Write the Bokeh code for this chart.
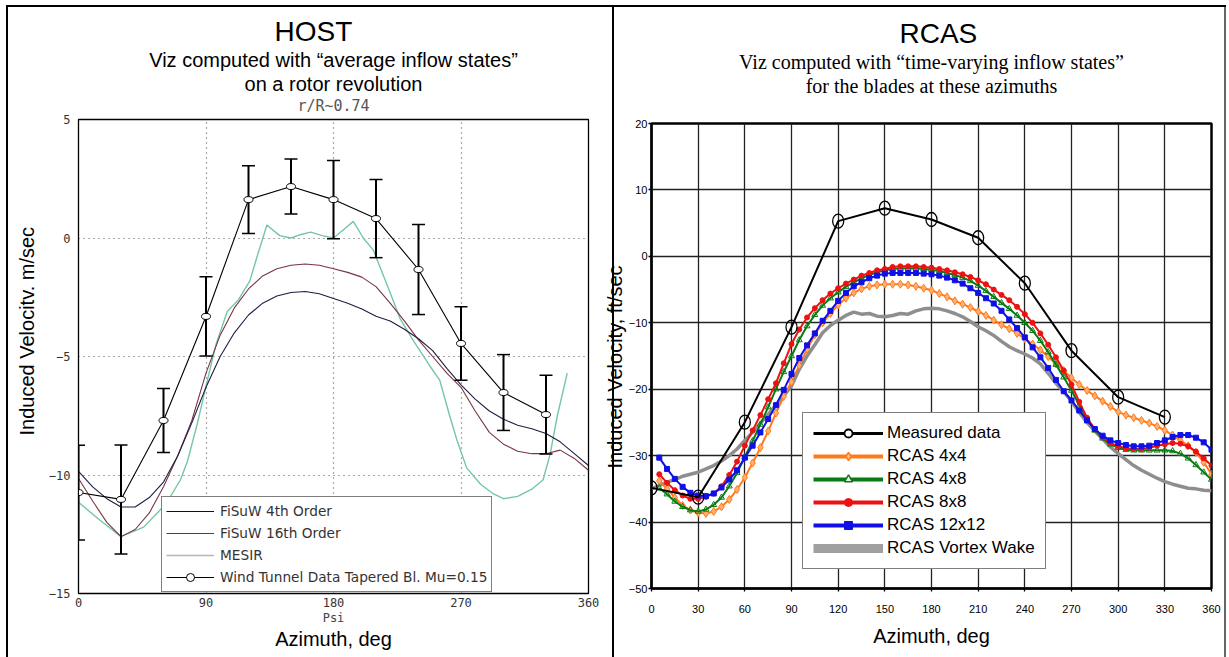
from bokeh.plotting import figure
from bokeh.layouts import row, column
from bokeh.models import Legend, LegendItem, FixedTicker, Range1d, Title
from bokeh.embed import file_html
from bokeh.resources import INLINE

# ---------------- HOST panel data (m/sec) ----------------
host_x_ticks = [0, 90, 180, 270, 360]
host_y_ticks = [-15, -10, -5, 0, 5]
host_x_grid = [90, 180, 270]
host_y_grid = [-10, -5, 0]

fisuw4_x = [0, 10, 20, 30, 40, 50, 60, 70, 80, 90, 100, 110, 120, 130, 140, 150, 160, 170, 180,
            190, 200, 210, 220, 230, 240, 250, 260, 270, 280, 290, 300, 310, 320, 330, 340, 350, 360]
fisuw4_y = [-9.85, -10.5, -11.0, -11.35, -11.35, -10.95, -10.3, -9.2, -7.8, -6.3, -5.0, -4.0, -3.25,
            -2.75, -2.45, -2.3, -2.26, -2.35, -2.55, -2.75, -3.0, -3.3, -3.5, -3.85, -4.25, -4.75, -5.5,
            -6.2, -6.8, -7.3, -7.65, -7.9, -8.05, -8.25, -8.6, -9.1, -9.6]

fisuw16_x = [0, 10, 20, 30, 40, 50, 60, 70, 80, 90, 100, 110, 120, 130, 140, 150, 160, 170, 180,
             190, 200, 210, 220, 230, 240, 250, 260, 270, 280, 290, 300, 310, 320, 330, 340, 350, 360]
fisuw16_y = [-10.15, -11.1, -12.0, -12.6, -12.3, -11.6, -10.5, -9.2, -7.7, -5.7, -4.1, -2.95, -2.15,
             -1.6, -1.3, -1.15, -1.1, -1.15, -1.3, -1.45, -1.65, -2.05, -2.75, -3.5, -4.3, -5.0, -5.7,
             -6.3, -7.3, -8.2, -8.7, -9.0, -9.1, -9.1, -8.95, -9.3, -9.8]

mesir_x = [0, 15, 30, 46, 62, 72, 77, 84, 91, 97, 105, 113, 121, 127, 133, 142, 150, 157, 164, 172,
           180, 187, 194, 201, 208, 218, 227, 236, 248, 255, 262, 267, 274, 284, 293, 300, 310, 320,
           328, 333, 338, 345]
mesir_y = [-11.15, -11.9, -12.6, -12.2, -11.2, -10.2, -9.4, -7.8, -6.0, -4.5, -3.1, -2.6, -1.8, -0.6,
           0.55, 0.1, 0.0, 0.15, 0.25, 0.1, 0.0, 0.35, 0.7, 0.0, -0.5, -2.0, -3.4, -4.3, -5.4, -6.0,
           -7.5, -8.5, -9.7, -10.4, -10.8, -11.0, -10.9, -10.6, -10.2, -9.1, -7.5, -5.7]

wt_x = [0, 30, 60, 90, 120, 150, 180, 210, 240, 270, 300, 330]
wt_y = [-10.74, -11.03, -7.7, -3.31, 1.62, 2.17, 1.62, 0.82, -1.33, -4.45, -6.52, -7.45]
wt_err = [2.0, 2.3, 1.35, 1.67, 1.43, 1.16, 1.65, 1.65, 1.9, 1.55, 1.6, 1.66]

host_labels = ["FiSuW 4th Order", "FiSuW 16th Order", "MESIR",
               "Wind Tunnel Data Tapered Bl. Mu=0.15"]

# ---------------- RCAS panel data (ft/sec) ----------------
rcas_x_ticks = [0, 30, 60, 90, 120, 150, 180, 210, 240, 270, 300, 330, 360]
rcas_y_ticks = [-50, -40, -30, -20, -10, 0, 10, 20]

meas_x = [0, 30, 60, 90, 120, 150, 180, 210, 240, 270, 300, 330]
meas_y = [-34.85, -36.25, -24.96, -10.66, 5.3, 7.25, 5.55, 2.8, -4.04, -14.2, -21.2, -24.2]

rcas_az = list(range(5, 361, 5))
rcas_4x4 = [-33.8, -35.0, -36.3, -37.5, -38.2, -38.6, -38.7, -38.4, -37.7, -36.6,
            -35.1, -33.3, -31.1, -28.8, -26.3, -23.6, -21.1, -18.9, -16.4, -14.0,
            -11.8, -10.0, -8.6, -7.3, -6.3, -5.5, -4.9, -4.5, -4.3, -4.2,
            -4.2, -4.2, -4.3, -4.5, -4.8, -5.1, -5.6, -6.1, -6.7, -7.2,
            -7.7, -8.3, -8.9, -9.6, -10.3, -10.9, -11.6, -12.4, -13.2, -14.1,
            -15.1, -16.2, -17.2, -18.3, -19.3, -20.2, -21.0, -21.8, -22.6, -23.4,
            -23.9, -24.3, -24.7, -25.1, -25.6, -26.2, -26.9, -27.7, -28.5, -29.5,
            -31.0, -32.8]
rcas_4x8 = [-34.9, -35.8, -36.9, -37.7, -38.2, -38.4, -38.1, -37.4, -36.3, -34.6,
            -32.6, -30.2, -27.8, -25.3, -22.7, -20.0, -17.4, -15.0, -12.6, -10.5,
            -8.8, -7.4, -6.3, -5.4, -4.6, -3.9, -3.3, -2.8, -2.4, -2.1,
            -1.9, -1.8, -1.8, -1.8, -1.9, -2.0, -2.2, -2.5, -2.8, -3.2,
            -3.7, -4.4, -5.2, -6.1, -7.0, -7.9, -8.9, -10.0, -11.2, -12.7,
            -14.4, -16.3, -18.2, -20.2, -22.4, -24.5, -26.2, -27.4, -28.3, -28.8,
            -29.1, -29.2, -29.2, -29.2, -29.2, -29.2, -29.3, -29.7, -30.4, -31.4,
            -32.5, -33.6]
rcas_8x8 = [-32.8, -34.1, -35.2, -36.0, -36.5, -36.5, -36.2, -35.7, -34.6, -32.9,
            -30.9, -28.5, -26.2, -23.9, -21.5, -19.1, -16.1, -13.2, -11.0, -9.2,
            -7.8, -6.6, -5.6, -4.8, -4.1, -3.5, -2.9, -2.5, -2.1, -1.9,
            -1.6, -1.5, -1.5, -1.5, -1.6, -1.7, -1.9, -2.1, -2.4, -2.7,
            -3.1, -3.6, -4.2, -5.0, -5.8, -6.6, -7.6, -8.7, -10.0, -11.6,
            -13.3, -15.2, -17.2, -19.3, -21.9, -24.3, -26.0, -27.2, -28.1, -28.6,
            -28.9, -29.0, -29.0, -28.8, -28.5, -28.3, -28.1, -28.2, -28.6, -29.4,
            -30.4, -31.5]
rcas_12x12 = [-30.3, -32.0, -33.5, -34.7, -35.6, -36.0, -36.1, -35.7, -34.8, -33.6,
              -32.2, -30.3, -28.5, -26.5, -24.5, -22.4, -20.1, -17.7, -15.3, -13.4,
              -11.6, -9.7, -8.2, -6.7, -5.5, -4.5, -3.9, -3.3, -2.9, -2.6,
              -2.5, -2.5, -2.5, -2.5, -2.6, -2.7, -2.9, -3.2, -3.6, -4.1,
              -4.8, -5.5, -6.3, -7.1, -8.2, -9.5, -10.8, -12.2, -13.7, -15.2,
              -16.8, -18.6, -20.3, -21.7, -23.2, -24.7, -26.0, -27.0, -27.7, -28.1,
              -28.4, -28.6, -28.6, -28.5, -28.1, -27.7, -27.2, -26.9, -26.9, -27.3,
              -28.0, -29.1]
vortex_az = list(range(0, 361, 5))
vortex_y = [-35.0, -34.5, -34.0, -33.6, -33.1, -32.8, -32.5, -32.0, -31.5, -30.8,
            -30.0, -29.0, -27.7, -26.5, -25.1, -23.8, -22.4, -21.0, -19.5, -17.0,
            -15.0, -13.3, -11.5, -10.4, -9.6, -8.9, -8.4, -8.7, -8.6, -9.0,
            -9.1, -8.9, -8.6, -8.7, -8.2, -7.9, -7.8, -7.9, -8.2, -8.6,
            -9.1, -9.8, -10.6, -11.2, -11.9, -12.8, -13.6, -14.2, -14.7, -15.3,
            -16.2, -17.6, -19.1, -20.4, -21.8, -23.5, -25.0, -26.3, -27.5, -28.7,
            -29.7, -30.6, -31.5, -32.2, -32.8, -33.4, -33.9, -34.3, -34.6, -34.9,
            -35.0, -35.2, -35.3]

rcas_labels = ["Measured data", "RCAS 4x4", "RCAS 4x8", "RCAS 8x8", "RCAS 12x12", "RCAS Vortex Wake"]

SANS = "Liberation Sans"
SERIF = "Liberation Serif"
MONO = "DejaVu Sans Mono"


def add_title(p, text, side, size, font=SANS, color="black", standoff=0,
              align="center", offset=0, valign="middle"):
    p.add_layout(Title(text=text, align=align, offset=offset, vertical_align=valign,
                       standoff=standoff, text_font=font, text_font_size=size,
                       text_font_style="normal", text_color=color), side)


# ======================= LEFT: HOST =======================
p1 = figure(width=600, height=657, x_range=Range1d(0, 360), y_range=Range1d(-15, 5),
            output_backend="svg", toolbar_location=None,
            min_border_left=78, min_border_right=12, min_border_top=119, min_border_bottom=64,
            styles={"background": "linear-gradient(#000,#000) 6px 5px / 2px 100% no-repeat, "
                                  "linear-gradient(#000,#000) 6px 5px / 100% 2px no-repeat, #ffffff"})
p1.border_fill_color = None
p1.background_fill_color = "white"
p1.outline_line_color = "black"
p1.outline_line_width = 1.3
p1.xaxis.ticker = FixedTicker(ticks=host_x_ticks)
p1.yaxis.ticker = FixedTicker(ticks=host_y_ticks)
p1.xgrid.ticker = FixedTicker(ticks=host_x_grid)
p1.ygrid.ticker = FixedTicker(ticks=host_y_grid)
for g in (p1.xgrid, p1.ygrid):
    g.grid_line_color = "#555555"
    g.grid_line_dash = "1 4"
    g.grid_line_width = 1.2
p1.yaxis.major_label_overrides = {t: str(t).replace("-", "\u2212") for t in host_y_ticks}
for ax in (p1.xaxis, p1.yaxis):
    ax.axis_line_color = "black"
    ax.major_tick_in = 0
    ax.major_tick_out = 0
    ax.minor_tick_out = 0
    ax.minor_tick_in = 0
    ax.major_label_text_font = MONO
    ax.major_label_text_font_size = "12px"
    ax.major_label_text_color = "#333333"
p1.xaxis.major_label_standoff = 4
p1.yaxis.major_label_standoff = 8

p1.line(mesir_x, mesir_y, color="#74c7a4", line_width=1.4)
p1.line(fisuw16_x, fisuw16_y, color="#7a3344", line_width=1.1)
p1.line(fisuw4_x, fisuw4_y, color="#1e1e44", line_width=1.1)
p1.line(wt_x, wt_y, color="black", line_width=1.1)
wt_lo = [y - e for y, e in zip(wt_y, wt_err)]
wt_hi = [y + e for y, e in zip(wt_y, wt_err)]
p1.segment(x0=wt_x, y0=wt_lo, x1=wt_x, y1=wt_hi, color="black", line_width=2)
p1.scatter(wt_x, wt_lo, marker="dash", size=13, line_width=1.5, color="black")
p1.scatter(wt_x, wt_hi, marker="dash", size=13, line_width=1.5, color="black")
p1.ellipse(wt_x, wt_y, width=9, height=6, width_units="screen", height_units="screen",
           fill_color="white", line_color="black", line_width=1)

# legend proxies (hidden renderers, shown only as legend glyphs)
lg1 = p1.line(fisuw4_x, fisuw4_y, color="#111111", line_width=1.2, visible=False)
lg2 = p1.line(fisuw16_x, fisuw16_y, color="#444444", line_width=1.2, visible=False)
lg3 = p1.line(mesir_x, mesir_y, color="#b5b5b5", line_width=1.5, visible=False)
lg4a = p1.line(wt_x, wt_y, color="black", line_width=1.2, visible=False)
lg4b = p1.scatter(wt_x, wt_y, marker="circle", size=7, fill_color="white", line_color="black",
                  visible=False)
leg1 = Legend(items=[LegendItem(label=host_labels[0], renderers=[lg1]),
                     LegendItem(label=host_labels[1], renderers=[lg2]),
                     LegendItem(label=host_labels[2], renderers=[lg3]),
                     LegendItem(label=host_labels[3], renderers=[lg4a, lg4b])],
              location=(83, 1), margin=0, padding=4, spacing=2,
              label_height=20, glyph_height=20, glyph_width=48, label_standoff=6,
              label_text_font="DejaVu Sans", label_text_font_size="13.7px",
              label_text_color="#333333",
              border_line_color="black", border_line_width=1.5,
              background_fill_color="white", background_fill_alpha=1.0)
p1.add_layout(leg1)

# titles above the frame, nearest first
add_title(p1, " ", "above", "1px", standoff=1)
add_title(p1, "r/R~0.74", "above", "15px", font=MONO, color="#555555")
add_title(p1, "on a rotor revolution", "above", "20px")
add_title(p1, "Viz computed with \u201caverage inflow states\u201d", "above", "20px")
add_title(p1, "HOST", "above", "28px", align="left", offset=196)
add_title(p1, "Induced Velocitv. m/sec", "left", "20px", standoff=14, align="left", offset=158)
add_title(p1, "Psi", "below", "12px", font=MONO, color="#444444")
add_title(p1, "Azimuth, deg", "below", "20px", standoff=2)

# ======================= RIGHT: RCAS =======================
p2 = figure(width=629, height=657, x_range=Range1d(0, 360), y_range=Range1d(-50, 20),
            output_backend="svg", toolbar_location=None,
            min_border_left=51, min_border_right=18, min_border_top=123, min_border_bottom=69,
            styles={"background": "linear-gradient(#000,#000) 0px 5px / 626px 2px no-repeat, "
                                  "linear-gradient(#000,#000) 12px 5px / 2px 100% no-repeat, "
                                  "linear-gradient(#666,#666) 624px 5px / 2px 100% no-repeat, #ffffff"})
p2.border_fill_color = None
p2.background_fill_color = "white"
p2.outline_line_color = "black"
p2.outline_line_width = 2.5
p2.xaxis.ticker = FixedTicker(ticks=rcas_x_ticks)
p2.yaxis.ticker = FixedTicker(ticks=rcas_y_ticks)
for g in (p2.xgrid, p2.ygrid):
    g.grid_line_color = "#222222"
    g.grid_line_width = 1.3
for ax in (p2.xaxis, p2.yaxis):
    ax.axis_line_color = "black"
    ax.axis_line_width = 2
    ax.major_tick_in = 0
    ax.major_tick_out = 3
    ax.major_tick_line_width = 1.3
    ax.minor_tick_out = 0
    ax.minor_tick_in = 0
    ax.major_label_text_font = SANS
    ax.major_label_text_font_size = "11px"
    ax.major_label_text_color = "black"
p2.xaxis.major_label_standoff = 13
p2.yaxis.major_label_standoff = 1

ORANGE, GREEN, RED, BLUE, GRAY = "#ff7a1a", "#0a7a14", "#ee1111", "#1010e6", "#8e8e8e"
p2.line(vortex_az, vortex_y, color=GRAY, line_width=3.5)
p2.line(rcas_az, rcas_4x4, color=ORANGE, line_width=2)
p2.scatter(rcas_az, rcas_4x4, marker="diamond", size=8, fill_color="#ffb070", line_color=ORANGE)
p2.line(rcas_az, rcas_4x8, color=GREEN, line_width=2)
p2.scatter(rcas_az, rcas_4x8, marker="triangle", size=6, fill_color=None, line_color=GREEN)
p2.line(rcas_az, rcas_8x8, color=RED, line_width=2)
p2.scatter(rcas_az, rcas_8x8, marker="circle", size=5, fill_color=RED, line_color=RED)
p2.line(rcas_az, rcas_12x12, color=BLUE, line_width=2)
p2.scatter(rcas_az, rcas_12x12, marker="square", size=5, fill_color=BLUE, line_color=BLUE)
p2.line(meas_x, meas_y, color="black", line_width=2)
p2.ellipse(meas_x, meas_y, width=11, height=14, width_units="screen", height_units="screen",
           fill_color=None, line_color="black", line_width=1.3)

r_m1 = p2.line(meas_x, meas_y, color="black", line_width=3, visible=False)
r_m2 = p2.scatter(meas_x, meas_y, marker="circle", size=15, fill_color="white", line_color="black",
                  line_width=1.8, visible=False)
r_o1 = p2.line(rcas_az, rcas_4x4, color=ORANGE, line_width=4, visible=False)
r_o2 = p2.scatter(rcas_az, rcas_4x4, marker="diamond", size=12, fill_color="#ffc080",
                  line_color=ORANGE, line_width=1.5, visible=False)
r_g1 = p2.line(rcas_az, rcas_4x8, color=GREEN, line_width=4, visible=False)
r_g2 = p2.scatter(rcas_az, rcas_4x8, marker="triangle", size=11, fill_color="white",
                  line_color=GREEN, line_width=1.5, visible=False)
r_r1 = p2.line(rcas_az, rcas_8x8, color=RED, line_width=4, visible=False)
r_r2 = p2.scatter(rcas_az, rcas_8x8, marker="circle", size=9, fill_color=RED, line_color=RED,
                  visible=False)
r_b1 = p2.line(rcas_az, rcas_12x12, color=BLUE, line_width=4, visible=False)
r_b2 = p2.scatter(rcas_az, rcas_12x12, marker="square", size=9, fill_color=BLUE, line_color=BLUE,
                  visible=False)
r_v1 = p2.line(vortex_az, vortex_y, color="#a0a0a0", line_width=9, visible=False)
leg2 = Legend(items=[LegendItem(label=rcas_labels[0], renderers=[r_m1, r_m2]),
                     LegendItem(label=rcas_labels[1], renderers=[r_o1, r_o2]),
                     LegendItem(label=rcas_labels[2], renderers=[r_g1, r_g2]),
                     LegendItem(label=rcas_labels[3], renderers=[r_r1, r_r2]),
                     LegendItem(label=rcas_labels[4], renderers=[r_b1, r_b2]),
                     LegendItem(label=rcas_labels[5], renderers=[r_v1])],
              location=(151, 19), margin=0, padding=10, spacing=3,
              label_height=20, glyph_height=20, glyph_width=70, label_standoff=4,
              label_text_font=SANS, label_text_font_size="17px", label_text_color="black",
              border_line_color="black", border_line_width=1.5,
              background_fill_color="white", background_fill_alpha=1.0)
p2.add_layout(leg2)

add_title(p2, " ", "above", "1px", standoff=23)
add_title(p2, "for the blades at these azimuths", "above", "20px", font=SERIF)
add_title(p2, "Viz computed with \u201ctime-varying inflow states\u201d", "above", "20px", font=SERIF)
add_title(p2, "RCAS", "above", "28px", align="left", offset=248)
add_title(p2, "Induced Velocity, ft/sec", "left", "20px", align="left", offset=120,
          valign="bottom")
add_title(p2, "Azimuth, deg", "below", "20px", standoff=17)

layout = row(column(p1), column(p2))
open("out.html", "w").write(file_html(layout, INLINE))
